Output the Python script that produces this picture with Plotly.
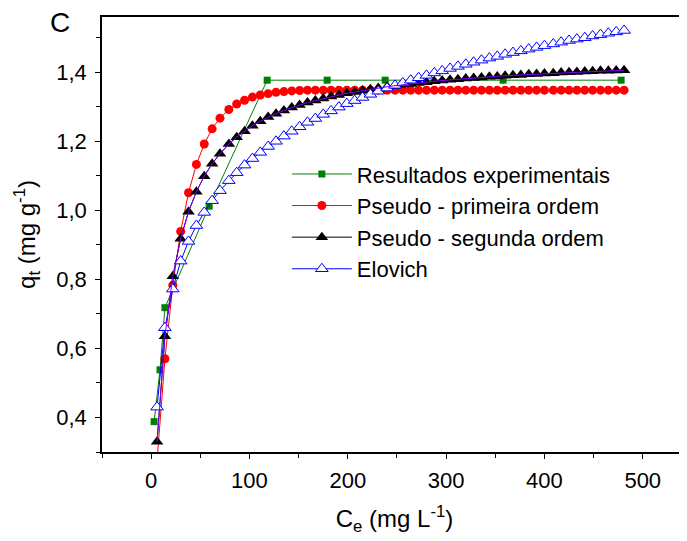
import plotly.graph_objects as go

# ---------------- data ----------------
exp_x = [3, 9, 14, 59, 118, 179, 238, 358, 478]
exp_y = [0.388, 0.538, 0.718, 1.012, 1.377, 1.377, 1.377, 1.377, 1.377]

model_x = [6, 14, 22, 30, 38, 46, 54, 62, 70, 79,
           87, 95, 103, 111, 119, 127, 135, 143, 151, 159,
           167, 175, 183, 191, 199, 207, 215, 223, 231, 240,
           248, 256, 264, 272, 280, 288, 296, 304, 312, 320,
           328, 336, 344, 352, 360, 368, 376, 384, 392, 400,
           409, 417, 425, 433, 441, 449, 457, 465, 473, 481]

pfo_y = [0.275, 0.570, 0.783, 0.939, 1.051, 1.133, 1.192, 1.236, 1.267, 1.292,
         1.308, 1.319, 1.328, 1.334, 1.338, 1.342, 1.344, 1.346, 1.347, 1.348,
         1.348, 1.348, 1.348, 1.348, 1.348, 1.348, 1.348, 1.348, 1.348, 1.348,
         1.348, 1.348, 1.348, 1.348, 1.348, 1.348, 1.348, 1.348, 1.348, 1.348,
         1.348, 1.348, 1.348, 1.348, 1.348, 1.348, 1.348, 1.348, 1.348, 1.348,
         1.348, 1.348, 1.348, 1.348, 1.348, 1.348, 1.348, 1.348, 1.348, 1.348]

pso_y = [0.330, 0.635, 0.809, 0.918, 0.996, 1.054, 1.099, 1.135, 1.164, 1.192,
         1.212, 1.229, 1.245, 1.258, 1.270, 1.280, 1.289, 1.298, 1.305, 1.312,
         1.318, 1.324, 1.330, 1.334, 1.339, 1.343, 1.347, 1.351, 1.354, 1.358,
         1.361, 1.364, 1.366, 1.369, 1.371, 1.374, 1.376, 1.378, 1.380, 1.382,
         1.383, 1.385, 1.387, 1.388, 1.390, 1.391, 1.392, 1.394, 1.395, 1.396,
         1.397, 1.399, 1.400, 1.401, 1.402, 1.403, 1.404, 1.404, 1.405, 1.406]

elovich_y = [0.430, 0.660, 0.772, 0.853, 0.910, 0.956, 0.994, 1.028, 1.057, 1.086,
             1.109, 1.131, 1.150, 1.168, 1.185, 1.200, 1.215, 1.229, 1.242, 1.255,
             1.266, 1.278, 1.288, 1.299, 1.309, 1.318, 1.327, 1.336, 1.345, 1.354,
             1.362, 1.369, 1.377, 1.384, 1.391, 1.398, 1.404, 1.411, 1.417, 1.423,
             1.429, 1.435, 1.441, 1.446, 1.452, 1.457, 1.462, 1.467, 1.472, 1.477,
             1.482, 1.487, 1.492, 1.496, 1.500, 1.505, 1.509, 1.513, 1.517, 1.521]

names = ["Resultados experimentais", "Pseudo - primeira ordem",
         "Pseudo - segunda ordem", "Elovich"]

FONT = "Liberation Sans, Arial, sans-serif"

fig = go.Figure()

fig.add_trace(go.Scatter(
    x=exp_x, y=exp_y, mode="lines+markers", name=names[0], legendgroup="a",
    line=dict(color="#008000", width=1),
    marker=dict(symbol="square", size=7, color="#008000", line=dict(width=0)),
))
fig.add_trace(go.Scatter(
    x=model_x, y=pfo_y, mode="lines+markers", name=names[1], legendgroup="b",
    line=dict(color="#FF0000", width=1),
    marker=dict(symbol="circle", size=9, color="#FF0000", line=dict(width=0)),
))
fig.add_trace(go.Scatter(
    x=model_x, y=pso_y, mode="lines+markers", name=names[2], legendgroup="c",
    line=dict(color="#000000", width=1),
    marker=dict(symbol="triangle-up", size=11, color="#000000", line=dict(width=0)),
))
fig.add_trace(go.Scatter(
    x=model_x, y=elovich_y, mode="lines+markers", name=names[3], legendgroup="d",
    line=dict(color="#0000FF", width=1),
    marker=dict(symbol="triangle-up", size=11, color="white",
                line=dict(color="#0000FF", width=1)),
))
fig.add_trace(go.Scatter(
    x=model_x, y=pso_y, mode="lines", showlegend=False, hoverinfo="skip",
    line=dict(color="#8000FF", width=1),
))

fig.add_annotation(
    text="C", xref="paper", yref="paper", x=-0.0726, y=0.987,
    xanchor="center", yanchor="middle", showarrow=False,
    font=dict(family=FONT, size=28, color="black"),
)

axis_common = dict(
    showgrid=False, zeroline=False, showline=True, linecolor="black",
    linewidth=1.5, ticks="outside", ticklen=5, tickwidth=1.3,
    tickcolor="black", automargin=False,
    tickfont=dict(family=FONT, size=22, color="black"),
)

fig.update_xaxes(
    **axis_common, range=[-50, 545], tick0=0, dtick=100, mirror=True,
    minor=dict(dtick=50, ticks="outside", ticklen=4, tickwidth=1.3,
               tickcolor="black", showgrid=False),
    ticklabelstandoff=3,
    title=dict(text="C<sub>e</sub> (mg L<sup>-1</sup>)",
               font=dict(family=FONT, size=24, color="black"), standoff=18),
)
fig.update_yaxes(
    **axis_common, range=[0.3, 1.56], tick0=0.4, dtick=0.2, tickformat=".1f",
    minor=dict(dtick=0.1, ticks="outside", ticklen=4, tickwidth=1.3,
               tickcolor="black", showgrid=False),
    ticklabelstandoff=4,
    title=dict(text="q<sub>t</sub> (mg g<sup>-1</sup>)",
               font=dict(family=FONT, size=24, color="black"), standoff=14),
)

# the page body adds an 8px offset; margins compensate so the plot box
# lands where the reference has it
fig.update_layout(
    width=687, height=541,
    margin=dict(l=94, r=8, t=9, b=97),
    plot_bgcolor="white", paper_bgcolor="white",
    separators=",.",
    font=dict(family=FONT, color="black"),
    legend=dict(
        x=0.316, y=0.687, xanchor="left", yanchor="top",
        bgcolor="rgba(0,0,0,0)", borderwidth=0,
        font=dict(family=FONT, size=22, color="black"),
        tracegroupgap=0, itemwidth=60,
    ),
)

fig.write_html("out.html")
